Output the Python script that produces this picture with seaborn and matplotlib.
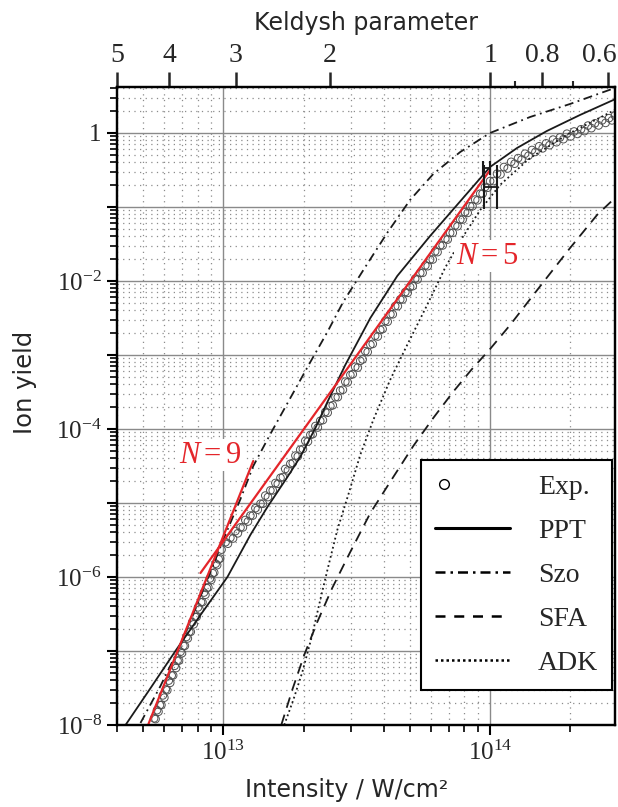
import numpy as np
import pandas as pd
import matplotlib
matplotlib.use("Agg")
import matplotlib.pyplot as plt
import seaborn as sns
from matplotlib.lines import Line2D
from matplotlib.legend_handler import HandlerLine2D
from matplotlib.ticker import FixedLocator, FixedFormatter, FuncFormatter, NullFormatter

# ---------------- data (log10 of intensity in W/cm^2, log10 of ion yield) ----------------
# experimental points, first row of the band
exp_logI = [12.740, 12.751, 12.762, 12.773, 12.784, 12.795, 12.806, 12.817, 12.828, 12.839,
            12.850, 12.861, 12.872, 12.883, 12.894, 12.905, 12.916, 12.927, 12.938, 12.949,
            12.960, 12.971, 12.982, 12.993,
            13.008, 13.026, 13.045, 13.064, 13.082, 13.101, 13.120, 13.139, 13.157, 13.176,
            13.195, 13.214, 13.232, 13.251, 13.270, 13.288, 13.307, 13.326, 13.345, 13.363,
            13.382, 13.401, 13.420, 13.438, 13.457, 13.476, 13.494, 13.513, 13.532, 13.551,
            13.569, 13.588, 13.607, 13.626, 13.644, 13.663, 13.682, 13.700, 13.719, 13.738,
            13.757, 13.775, 13.794, 13.813, 13.832, 13.850, 13.869, 13.888, 13.906, 13.925,
            13.944, 13.963, 13.981, 14.000,
            14.026, 14.052, 14.079, 14.105, 14.131, 14.157, 14.184, 14.210, 14.236, 14.262,
            14.288, 14.315, 14.341, 14.367, 14.393, 14.420, 14.446, 14.468]
exp_logY = [-7.91, -7.80, -7.73, -7.60, -7.52, -7.40, -7.33, -7.20, -7.13, -7.01,
            -6.93, -6.81, -6.74, -6.61, -6.54, -6.41, -6.34, -6.21, -6.15, -6.02,
            -5.95, -5.82, -5.76, -5.63,
            -5.53, -5.47, -5.38, -5.33, -5.23, -5.17, -5.07, -5.01, -4.90, -4.83,
            -4.73, -4.66, -4.54, -4.47, -4.36, -4.28, -4.16, -4.08, -3.96, -3.89,
            -3.77, -3.69, -3.57, -3.48, -3.36, -3.27, -3.16, -3.08, -2.95, -2.86,
            -2.74, -2.66, -2.54, -2.45, -2.34, -2.25, -2.15, -2.08, -1.97, -1.89,
            -1.79, -1.71, -1.60, -1.52, -1.43, -1.35, -1.25, -1.17, -1.07, -0.99,
            -0.90, -0.82, -0.73, -0.65,
            -0.55, -0.46, -0.39, -0.34, -0.28, -0.23, -0.18, -0.14, -0.09, -0.06,
            -0.01, 0.02, 0.05, 0.10, 0.13, 0.17, 0.20, 0.235]
# experimental points, second row of the band
exp2_logI = [12.7455, 12.7565, 12.7675, 12.7785, 12.7895, 12.8005, 12.8115, 12.8225, 12.8335,
             12.8445, 12.8555, 12.8665, 12.8775, 12.8885, 12.8995, 12.9105, 12.9215, 12.9325,
             12.9435, 12.9545, 12.9655, 12.9765, 12.9875,
             13.017, 13.036, 13.054, 13.073, 13.092, 13.110, 13.129, 13.148, 13.167, 13.185,
             13.204, 13.223, 13.242, 13.260, 13.279, 13.298, 13.317, 13.335, 13.354, 13.373,
             13.391, 13.410, 13.429, 13.448, 13.466, 13.485, 13.504, 13.522, 13.541, 13.560,
             13.579, 13.597, 13.616, 13.635, 13.654, 13.672, 13.691, 13.710, 13.728, 13.747,
             13.766, 13.785, 13.803, 13.822, 13.841, 13.860, 13.878, 13.897, 13.916, 13.934,
             13.953, 13.972, 13.991,
             14.013, 14.039, 14.066, 14.092, 14.118, 14.144, 14.170, 14.197, 14.223, 14.249,
             14.275, 14.302, 14.328, 14.354, 14.380, 14.407, 14.433, 14.457]
exp2_logY = [-7.92, -7.82, -7.73, -7.63, -7.53, -7.43, -7.33, -7.23, -7.13,
             -7.03, -6.93, -6.83, -6.74, -6.64, -6.54, -6.44, -6.34, -6.24,
             -6.14, -6.04, -5.94, -5.84, -5.75,
             -5.55, -5.48, -5.41, -5.33, -5.25, -5.17, -5.09, -5.01, -4.92, -4.83,
             -4.74, -4.65, -4.56, -4.46, -4.37, -4.27, -4.17, -4.07, -3.98, -3.88,
             -3.78, -3.68, -3.57, -3.47, -3.37, -3.26, -3.17, -3.06, -2.96, -2.85,
             -2.75, -2.65, -2.55, -2.45, -2.34, -2.25, -2.16, -2.07, -1.98, -1.89,
             -1.80, -1.71, -1.61, -1.52, -1.44, -1.35, -1.26, -1.17, -1.08, -0.99,
             -0.91, -0.82, -0.74,
             -0.65, -0.56, -0.48, -0.415, -0.36, -0.307, -0.256, -0.208, -0.165, -0.125,
             -0.084, -0.047, -0.013, 0.025, 0.065, 0.102, 0.136, 0.17]

ppt_logI = [12.633, 12.727, 12.820, 12.914, 13.015, 13.101, 13.165, 13.240, 13.288, 13.345,
            13.390, 13.457, 13.551, 13.652, 13.775, 13.876, 14.000, 14.101, 14.213, 14.337, 14.479]
ppt_logY = [-8.00, -7.50, -7.00, -6.514, -6.00, -5.432, -5.054, -4.649, -4.378, -3.986,
            -3.635, -3.135, -2.50, -1.932, -1.392, -0.973, -0.459, -0.203, 0.027, 0.243, 0.473]

szo_logI = [12.689, 12.764, 12.828, 12.888, 12.951, 13.007, 13.064, 13.112, 13.176, 13.251,
            13.326, 13.390, 13.449, 13.532, 13.614, 13.700, 13.787, 13.888, 14.000, 14.150,
            14.300, 14.468]
szo_logY = [-7.973, -7.473, -7.00, -6.486, -5.932, -5.432, -4.946, -4.50, -4.068, -3.581,
            -3.095, -2.689, -2.284, -1.811, -1.351, -0.905, -0.554, -0.257, 0.00, 0.216,
            0.392, 0.608]

sfa_logI = [13.217, 13.258, 13.303, 13.352, 13.408, 13.468, 13.551, 13.637, 13.712, 13.787,
            13.861, 13.929, 14.000, 14.075, 14.139, 14.206, 14.300, 14.401, 14.476]
sfa_logY = [-8.00, -7.527, -7.054, -6.608, -6.149, -5.716, -5.135, -4.649, -4.230, -3.851,
            -3.50, -3.203, -2.919, -2.595, -2.297, -1.986, -1.554, -1.108, -0.851]

adk_logI = [13.228, 13.262, 13.296, 13.333, 13.363, 13.390, 13.427, 13.468, 13.513, 13.562,
            13.625, 13.689, 13.764, 13.831, 13.895, 13.963, 14.037, 14.150, 14.300, 14.468]
adk_logY = [-8.00, -7.662, -7.284, -6.784, -6.311, -5.905, -5.365, -4.892, -4.351, -3.878,
            -3.338, -2.865, -2.324, -1.824, -1.419, -1.041, -0.703, -0.338, 0.00, 0.311]

fit9_logI = [12.719, 13.112]
fit9_logY = [-7.986, -4.432]
fit5_logI = [12.914, 14.000]
fit5_logY = [-5.946, -0.500]

err_logI = [14.000, 13.988]
err_lo_logI = [13.9775, 13.974]
err_hi_logI = [14.0262, 14.000]
err_logY = [-0.730, -0.473]

gamma_major = [5, 4, 3, 2, 1, 0.8, 0.6]
gamma_labels = ["5", "4", "3", "2", "1", "0.8", ""]
gamma_last_label = "0.6"
gamma_minor = [0.9, 0.7]
legend_labels = ["Exp.", "PPT", "Szo", "SFA", "ADK"]

# ---------------- style ----------------
sns.set_style("ticks")
plt.rcParams["font.family"] = ["DejaVu Sans"]
plt.rcParams["mathtext.fontset"] = "custom"
plt.rcParams["mathtext.rm"] = "Liberation Serif"
plt.rcParams["mathtext.it"] = "Liberation Serif:italic"
plt.rcParams["mathtext.bf"] = "Liberation Serif:bold"

RED = "#e4252a"
LINE = "#1a1a1a"

fig = plt.figure(figsize=(6.18, 8.07), dpi=100)
ax = fig.add_axes([117 / 618, 82 / 807, 498 / 618, 638 / 807])
ax.set_xscale("log")
ax.set_yscale("log")

def tolin(a):
    return 10.0 ** np.asarray(a, dtype=float)

exp_df = pd.DataFrame({"I": tolin(exp_logI + exp2_logI), "Y": tolin(exp_logY + exp2_logY)})
sns.scatterplot(data=exp_df, x="I", y="Y", ax=ax, marker="o", s=30,
                color="#505050", facecolor="none", edgecolor="#505050",
                linewidth=0.7, zorder=3, legend=False)

sns.lineplot(x=tolin(ppt_logI), y=tolin(ppt_logY), ax=ax, sort=False, estimator=None,
             color=LINE, lw=1.3, zorder=4)
sns.lineplot(x=tolin(szo_logI), y=tolin(szo_logY), ax=ax, sort=False, estimator=None,
             color=LINE, lw=1.3, linestyle=(0, (5, 2.5, 1, 2.5)), zorder=4)
sns.lineplot(x=tolin(sfa_logI), y=tolin(sfa_logY), ax=ax, sort=False, estimator=None,
             color=LINE, lw=1.3, linestyle=(0, (6, 4)), zorder=4)
sns.lineplot(x=tolin(adk_logI), y=tolin(adk_logY), ax=ax, sort=False, estimator=None,
             color=LINE, lw=1.3, linestyle=(0, (1, 1.6)), zorder=4)

sns.lineplot(x=tolin(fit9_logI), y=tolin(fit9_logY), ax=ax, sort=False, estimator=None,
             color=RED, lw=1.6, zorder=5)
sns.lineplot(x=tolin(fit5_logI), y=tolin(fit5_logY), ax=ax, sort=False, estimator=None,
             color=RED, lw=1.6, zorder=5)

# error bars near 1e14
for k, cs in zip(range(len(err_logI)), [16, 5]):
    xc = 10 ** err_logI[k]
    ax.errorbar([xc], [10 ** err_logY[k]],
                xerr=[[xc - 10 ** err_lo_logI[k]], [10 ** err_hi_logI[k] - xc]],
                fmt="none", ecolor=LINE, elinewidth=1.3, capsize=cs, capthick=1.5, zorder=6)

ax.text(10 ** 12.951, 10 ** -4.351, r"$N = 9$", color=RED, fontsize=22,
        ha="center", va="center", zorder=6,
        bbox=dict(facecolor="white", edgecolor="none", pad=1.0))
ax.text(10 ** 13.989, 10 ** -1.662, r"$N = 5$", color=RED, fontsize=22,
        ha="center", va="center", zorder=6,
        bbox=dict(facecolor="white", edgecolor="none", pad=1.0))

# ---------------- axes ----------------
xlo, xhi = 3.99e12, 2.94e14
ax.set_xlim(xlo, xhi)
ax.set_ylim(1e-8, 4.18)

ax.xaxis.set_major_locator(FixedLocator([1e13, 1e14]))
ax.xaxis.set_minor_locator(FixedLocator([m * 10.0 ** k for k in (12, 13, 14) for m in range(2, 10)]))
ax.xaxis.set_major_formatter(FuncFormatter(lambda v, p: r"$10^{%d}$" % round(np.log10(v))))
ax.xaxis.set_minor_formatter(NullFormatter())

ax.yaxis.set_major_locator(FixedLocator([10.0 ** k for k in range(-8, 1)]))
ax.yaxis.set_minor_locator(FixedLocator([m * 10.0 ** k for k in range(-8, 1) for m in range(2, 10)]))

def yfmt(v, p):
    k = int(round(np.log10(v)))
    if k % 2:
        return ""
    if k == 0:
        return "1"
    return r"$10^{%d}$" % k

ax.yaxis.set_major_formatter(FuncFormatter(yfmt))
ax.yaxis.set_minor_formatter(NullFormatter())

ax.grid(which="major", color="#8a8a8a", lw=1.0, ls="-")
ax.grid(which="minor", color="#8c8c8c", lw=0.9, ls=(0, (1, 3.5)))
ax.set_axisbelow(True)

ax.tick_params(which="major", direction="out", length=7, width=1.5, color="k",
               labelsize=18, labelfontfamily="Liberation Serif", pad=4,
               top=False, right=False)
ax.tick_params(which="minor", direction="out", length=5, width=1.2, color="k",
               top=False, right=False)
for s in ax.spines.values():
    s.set_linewidth(1.6)
    s.set_color("k")

ax2 = ax.twiny()
ax2.set_xscale("log")
ax2.set_xlim(xlo, xhi)
ax2.xaxis.set_major_locator(FixedLocator([1e14 / g ** 2 for g in gamma_major]))
ax2.xaxis.set_major_formatter(FixedFormatter(gamma_labels))
ax2.xaxis.set_minor_locator(FixedLocator([1e14 / g ** 2 for g in gamma_minor]))
ax2.xaxis.set_minor_formatter(NullFormatter())
ax2.tick_params(axis="x", which="major", direction="out", length=11, width=1.8,
                labelsize=20, labelfontfamily="Liberation Serif", pad=3)
ax2.tick_params(axis="x", which="minor", direction="out", length=4, width=1.5)
ax2.grid(False)
for s in ax2.spines.values():
    s.set_linewidth(1.6)
    s.set_color("k")
# last Keldysh label sits a little left of its tick, as in the original
ax2.text(0.969, 1.0295, gamma_last_label, transform=ax2.transAxes, ha="center",
         va="bottom", fontsize=20, family="Liberation Serif")

ax.set_xlabel("Intensity / W/cm²", fontsize=17)
ax.xaxis.set_label_coords(0.461, -0.083)
ax.set_ylabel("Ion yield", fontsize=17.5)
ax.yaxis.set_label_coords(-0.1606, 0.5376)
ax2.set_xlabel("Keldysh parameter", fontsize=17)
ax2.xaxis.set_label_coords(0.5, 1.089)

# ---------------- legend ----------------
class LeftMarker(HandlerLine2D):
    def get_xdata(self, legend, xdescent, ydescent, width, height, fontsize):
        x = -xdescent + 0.12 * width
        return np.array([x, x]), np.array([x])

h_exp = Line2D([], [], ls="none", marker="o", mfc="none", mec="k", ms=7, mew=1.0)
handles = [h_exp,
           Line2D([], [], color="k", lw=2.2),
           Line2D([], [], color="k", lw=1.8, ls=(0, (4, 2, 1, 2))),
           Line2D([], [], color="k", lw=1.8, ls=(0, (4, 3.5))),
           Line2D([], [], color="k", lw=1.8, ls=(0, (1, 1.2)))]
leg = ax.legend(handles, legend_labels, loc="lower right", bbox_to_anchor=(0.994, 0.055),
                prop={"family": "Liberation Serif", "size": 20}, frameon=True,
                fancybox=False, edgecolor="k", framealpha=1, handlelength=2.7,
                handletextpad=1.0, labelspacing=0.67, borderpad=0.5, borderaxespad=0,
                handler_map={h_exp: LeftMarker(numpoints=1)})
leg.get_frame().set_linewidth(1.5)
leg.set_zorder(10)

fig.savefig("out.png", dpi=100)
